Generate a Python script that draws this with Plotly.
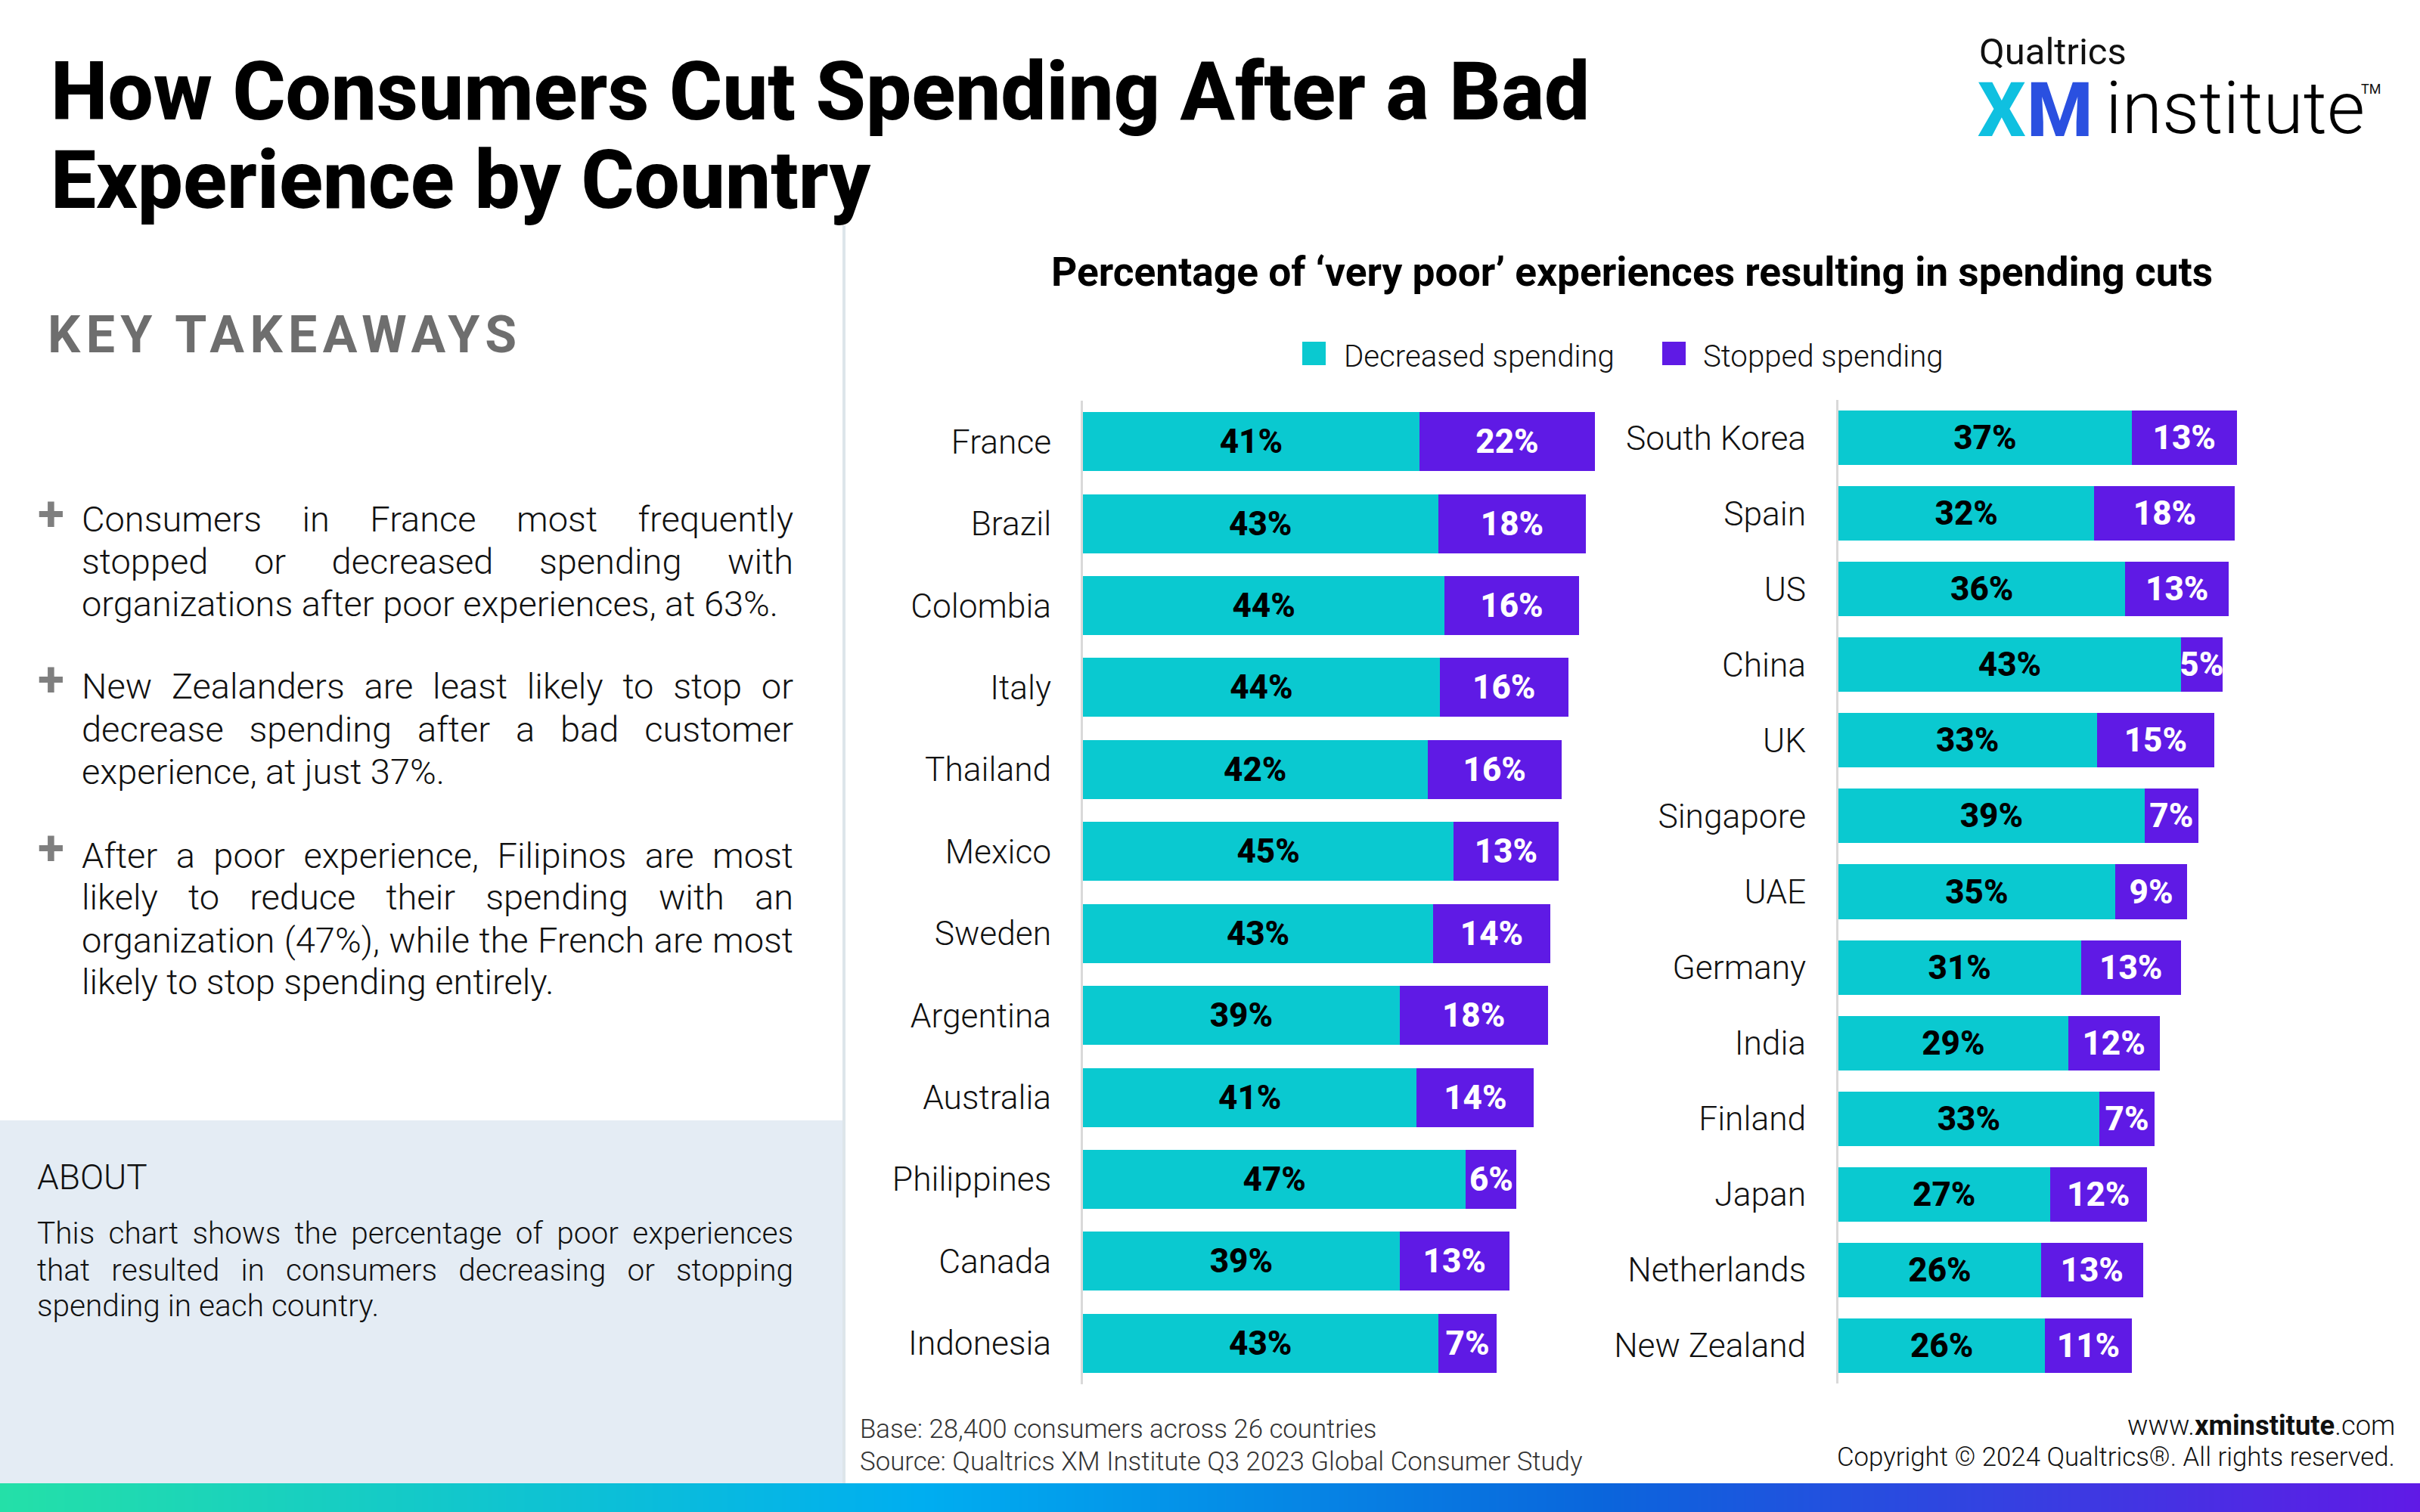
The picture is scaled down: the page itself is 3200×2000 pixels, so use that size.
import json
import plotly.graph_objects as go

W, H = 3200, 2000

left_countries = ["France", "Brazil", "Colombia", "Italy", "Thailand", "Mexico", "Sweden",
                  "Argentina", "Australia", "Philippines", "Canada", "Indonesia"]
left_decreased = [41.1, 43.4, 44.2, 43.6, 42.1, 45.3, 42.8, 38.7, 40.8, 46.8, 38.7, 43.4]
left_stopped = [21.5, 18.1, 16.4, 15.7, 16.4, 12.8, 14.3, 18.1, 14.3, 6.2, 13.4, 7.2]

right_countries = ["South Korea", "Spain", "US", "China", "UK", "Singapore", "UAE", "Germany",
                   "India", "Finland", "Japan", "Netherlands", "New Zealand"]
right_decreased = [36.9, 32.2, 36.1, 43.1, 32.5, 38.5, 34.8, 30.5, 28.9, 32.8, 26.6, 25.5, 26.0]
right_stopped = [13.2, 17.7, 13.0, 5.2, 14.8, 6.8, 9.1, 12.6, 11.5, 7.0, 12.2, 12.8, 10.9]

series_names = ["Decreased spending", "Stopped spending"]
TEAL, PURPLE = "#0ac9d0", "#5f1ae5"
FONT = "Roboto"


def px(x):
    return x / W


def py(y):
    return 1 - y / H


fig = go.Figure()


def add_bars(cats, dec, stop, xa, ya):
    fig.add_trace(go.Bar(y=cats, x=dec, name=series_names[0], orientation="h", xaxis=xa, yaxis=ya,
                         marker=dict(color=TEAL, line=dict(width=0)), texttemplate="%{x:.0f}%",
                         textposition="inside", insidetextanchor="middle", textangle=0,
                         constraintext="none", cliponaxis=False,
                         textfont=dict(family=FONT, size=44, color="#000000", weight=800)))
    fig.add_trace(go.Bar(y=cats, x=stop, name=series_names[1], orientation="h", xaxis=xa, yaxis=ya,
                         marker=dict(color=PURPLE, line=dict(width=0)), texttemplate="%{x:.0f}%",
                         textposition="inside", insidetextanchor="middle", textangle=0,
                         constraintext="none", cliponaxis=False,
                         textfont=dict(family=FONT, size=44, color="#ffffff", weight=800)))


add_bars(left_countries, left_decreased, left_stopped, "x", "y")
add_bars(right_countries, right_decreased, right_stopped, "x2", "y2")

# bottom gradient band
fig.add_trace(go.Heatmap(z=[[0, 1]], x=[0, 1], y=[0, 1], xaxis="x3", yaxis="y3", showscale=False,
                         zsmooth="best", hoverinfo="skip",
                         colorscale=[[0, "#24e0a8"], [0.38, "#00aef0"], [0.66, "#0a66dc"], [1, "#601ae6"]]))

yaxis_common = dict(showline=True, linecolor="#d9d9d9", linewidth=3,
                    showgrid=False, zeroline=False, ticks="",
                    tickfont=dict(family=FONT, size=44.3, color="#111111", weight=300))
xaxis_common = dict(visible=False, showgrid=False, zeroline=False)

shapes = [
    dict(type="rect", xref="paper", yref="paper", x0=0, x1=px(1116), y0=py(1962), y1=py(1482),
         fillcolor="#e4ecf4", line=dict(width=0), layer="below"),
    dict(type="line", xref="paper", yref="paper", x0=px(1116), x1=px(1116), y0=py(1962), y1=py(298),
         line=dict(color="#dde5ea", width=4), layer="below"),
    dict(type="rect", xref="paper", yref="paper", x0=px(1722), x1=px(1753), y0=py(483), y1=py(452),
         fillcolor=TEAL, line=dict(width=0)),
    dict(type="rect", xref="paper", yref="paper", x0=px(2198), x1=px(2229), y0=py(483), y1=py(452),
         fillcolor=PURPLE, line=dict(width=0)),
]

ann = []


def T(text, x, y, size, color="#111111", weight=300, anchor="left"):
    ann.append(dict(text=text, x=px(x), y=py(y), xref="paper", yref="paper", xanchor=anchor,
                    yanchor="middle", align=anchor, showarrow=False, borderpad=0, borderwidth=0,
                    font=dict(family=FONT, size=size, color=color, weight=weight)))


T("How Consumers Cut Spending After a Bad", 67, 121, 107, "#000000", 800)
T("Experience by Country", 67, 238, 107, "#000000", 800)

T("Percentage of ‘very poor’ experiences resulting in spending cuts", 1390, 360, 53.3, "#000000", 700)
T(series_names[0], 1777, 471, 40.2)
T(series_names[1], 2252, 471, 40.2)

T("KEY TAKEAWAYS", 63, 443, 68, "#6e6e6e", 700)

body_lines = [
    ("Consumers in France most frequently", 686, True),
    ("stopped or decreased spending with", 743, True),
    ("organizations after poor experiences, at 63%.", 798, False),
    ("New Zealanders are least likely to stop or", 908, True),
    ("decrease spending after a bad customer", 965, True),
    ("experience, at just 37%.", 1020, False),
    ("After a poor experience, Filipinos are most", 1131, True),
    ("likely to reduce their spending with an", 1186, True),
    ("organization (47%), while the French are most", 1243, True),
    ("likely to stop spending entirely.", 1298, False),
]
justify = {}
for line, y, just in body_lines:
    T(line, 108, y, 47)
    if just:
        justify[line] = 1049 - 108

for y in (680, 900, 1122):
    T("+", 67, y, 64, "#7f7f7f", 700, "center")

T("ABOUT", 49, 1557, 46)
about_lines = [
    ("This chart shows the percentage of poor experiences", 1631, True),
    ("that resulted in consumers decreasing or stopping", 1680, True),
    ("spending in each country.", 1727, False),
]
for line, y, just in about_lines:
    T(line, 49, y, 40.6)
    if just:
        justify[line] = 1049 - 49

T("Base: 28,400 consumers across 26 countries", 1137, 1890, 34.8, "#333333")
T("Source: Qualtrics XM Institute Q3 2023 Global Consumer Study", 1137, 1933, 34.8, "#333333")
T("www.<b>xminstitute</b>.com", 3167, 1885, 36.4, "#111111", 300, "right")
T("Copyright © 2024 Qualtrics®. All rights reserved.", 3167, 1927, 34.8, "#111111", 300, "right")

T("Qualtrics", 2617, 68, 49, "#111111", 400)
T("X", 2615, 145, 100, "#0fc0e0", 800)
T("M", 2680, 145, 100, "#2a50e0", 800)
T("institute", 2784, 143, 97, "#000000", 300)
T("TM", 3122, 118, 18, "#111111", 400)

fig.update_layout(
    width=W, height=H, margin=dict(l=0, r=0, t=0, b=0), autosize=False,
    paper_bgcolor="#ffffff", plot_bgcolor="rgba(0,0,0,0)",
    barmode="stack", bargap=0.28, showlegend=False,
    xaxis=dict(domain=[px(1432), px(2132)], range=[0, 700 / 10.82], **xaxis_common),
    xaxis2=dict(domain=[px(2431), px(3001)], range=[0, 570 / 10.51], **xaxis_common),
    xaxis3=dict(domain=[0, 1], range=[0, 1], visible=False),
    yaxis=dict(anchor="x", range=[11.5, -0.5], domain=[py(1831), py(530)], ticklabelstandoff=30, **yaxis_common),
    yaxis2=dict(anchor="x2", range=[12.5, -0.5], domain=[py(1830), py(529)], ticklabelstandoff=31, **yaxis_common),
    yaxis3=dict(domain=[0, py(1962)], range=[0, 1], visible=False, anchor="x3"),
    shapes=shapes, annotations=ann,
)

post = """
document.body.style.margin='0';
document.documentElement.style.overflow='hidden';
var J=%s;
document.querySelectorAll('.annotation-text').forEach(function(t){
  var s=t.textContent;
  if(J[s]){var g=(s.match(/ /g)||[]).length;t.style.wordSpacing=((J[s]-t.getComputedTextLength())/g)+'px';}
  if(s==='KEY TAKEAWAYS'){t.style.letterSpacing='7.4px';}
});
""" % json.dumps(justify)

fig.write_html("out.html", post_script=post, config={"displayModeBar": False})
